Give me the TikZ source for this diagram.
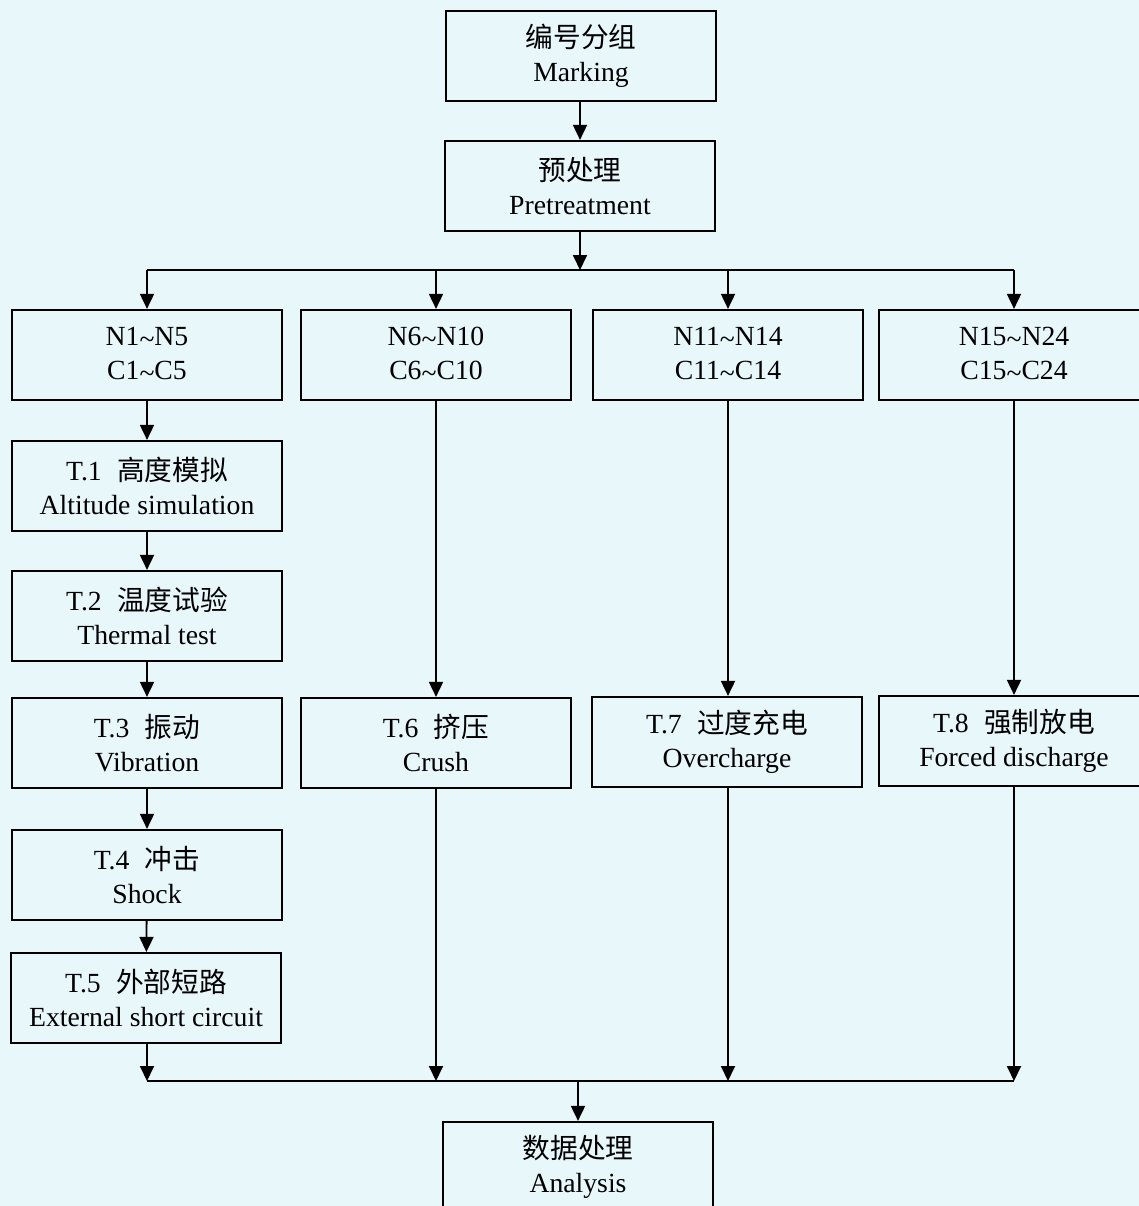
\documentclass[tikz,border=0pt]{standalone}
\usepackage{fontspec}
\setmainfont{Liberation Serif}
\newfontfamily\cjk{Noto Sans CJK SC}
\usetikzlibrary{arrows.meta}
\definecolor{paper}{RGB}{232,247,250}
\newcommand{\zh}[1]{{\cjk #1}}
\newcommand{\tld}{\raisebox{-0.25ex}{\textasciitilde}}

\begin{document}
\begin{tikzpicture}[x=0.5pt,y=-0.5pt,
    box/.style={draw,line width=1.1pt,minimum width=135pt,minimum height=45pt,
      align=center,inner sep=0pt,font=\fontsize{13.85}{17}\selectfont},
    arr/.style={line width=0.9pt,-{Triangle[length=7.5pt,width=7pt]}},
    ln/.style={line width=0.9pt}]
            \useasboundingbox (0,0) rectangle (1139,1206);
            \clip (0,0) rectangle (1139,1206);
            \fill[paper] (0,0) rectangle (1139,1206);
            % top
            \node[box] (mark) at (581,56) {\zh{编号分组}\\Marking};
            \node[box] (pre) at (580,186) {\zh{预处理}\\Pretreatment};
            \coordinate (split) at (580,270);
            \coordinate (join) at (578,1081);
            % groups
            \node[box] (g1) at (147,355) {N1\tld N5\\C1\tld C5};
            \node[box] (g2) at (436,355) {N6\tld N10\\C6\tld C10};
            \node[box] (g3) at (728,355) {N11\tld N14\\C11\tld C14};
            \node[box] (g4) at (1014,355) {N15\tld N24\\C15\tld C24};
            % tests
            \node[box] (t1) at (147,486) {T.1\hspace{0.55em}\zh{高度模拟}\\Altitude simulation};
            \node[box] (t2) at (147,616) {T.2\hspace{0.55em}\zh{温度试验}\\Thermal test};
            \node[box] (t3) at (147,743) {T.3\hspace{0.55em}\zh{振动}\\Vibration};
            \node[box] (t4) at (147,875) {T.4\hspace{0.55em}\zh{冲击}\\Shock};
            \node[box] (t5) at (146,998) {T.5\hspace{0.55em}\zh{外部短路}\\External short circuit};
            \node[box] (t6) at (436,743) {T.6\hspace{0.55em}\zh{挤压}\\Crush};
            \node[box] (t7) at (727,742) {T.7\hspace{0.55em}\zh{过度充电}\\Overcharge};
            \node[box] (t8) at (1014,741) {T.8\hspace{0.55em}\zh{强制放电}\\Forced discharge};
            \node[box] (ana) at (578,1167) {\zh{数据处理}\\Analysis};
            % arrows
            \draw[arr] (pre |- mark.south) -- (pre);
            \draw[arr] (pre) -- (split);
            \draw[ln] (g1 |- split) -- (g4 |- split);
            \draw[arr] (g1 |- split) -- (g1);
            \draw[arr] (g2 |- split) -- (g2);
            \draw[arr] (g3 |- split) -- (g3);
            \draw[arr] (g4 |- split) -- (g4);
            \draw[arr] (g1) -- (t1);
            \draw[arr] (t1) -- (t2);
            \draw[arr] (t2) -- (t3);
            \draw[arr] (t3) -- (t4);
            \draw[arr] (t4) -- (t5);
            \draw[arr] (g2) -- (t6);
            \draw[arr] (g3) -- (g3 |- t7.north);
            \draw[arr] (g4) -- (t8);
            \draw[arr] (t5.south -| g1) -- (g1 |- join);
            \draw[arr] (t6) -- (t6 |- join);
            \draw[arr] (t7.south -| g3) -- (g3 |- join);
            \draw[arr] (t8) -- (t8 |- join);
            \draw[ln] (g1 |- join) -- (g4 |- join);
            \draw[arr] (join) -- (ana);
        \end{tikzpicture}
\end{document}
